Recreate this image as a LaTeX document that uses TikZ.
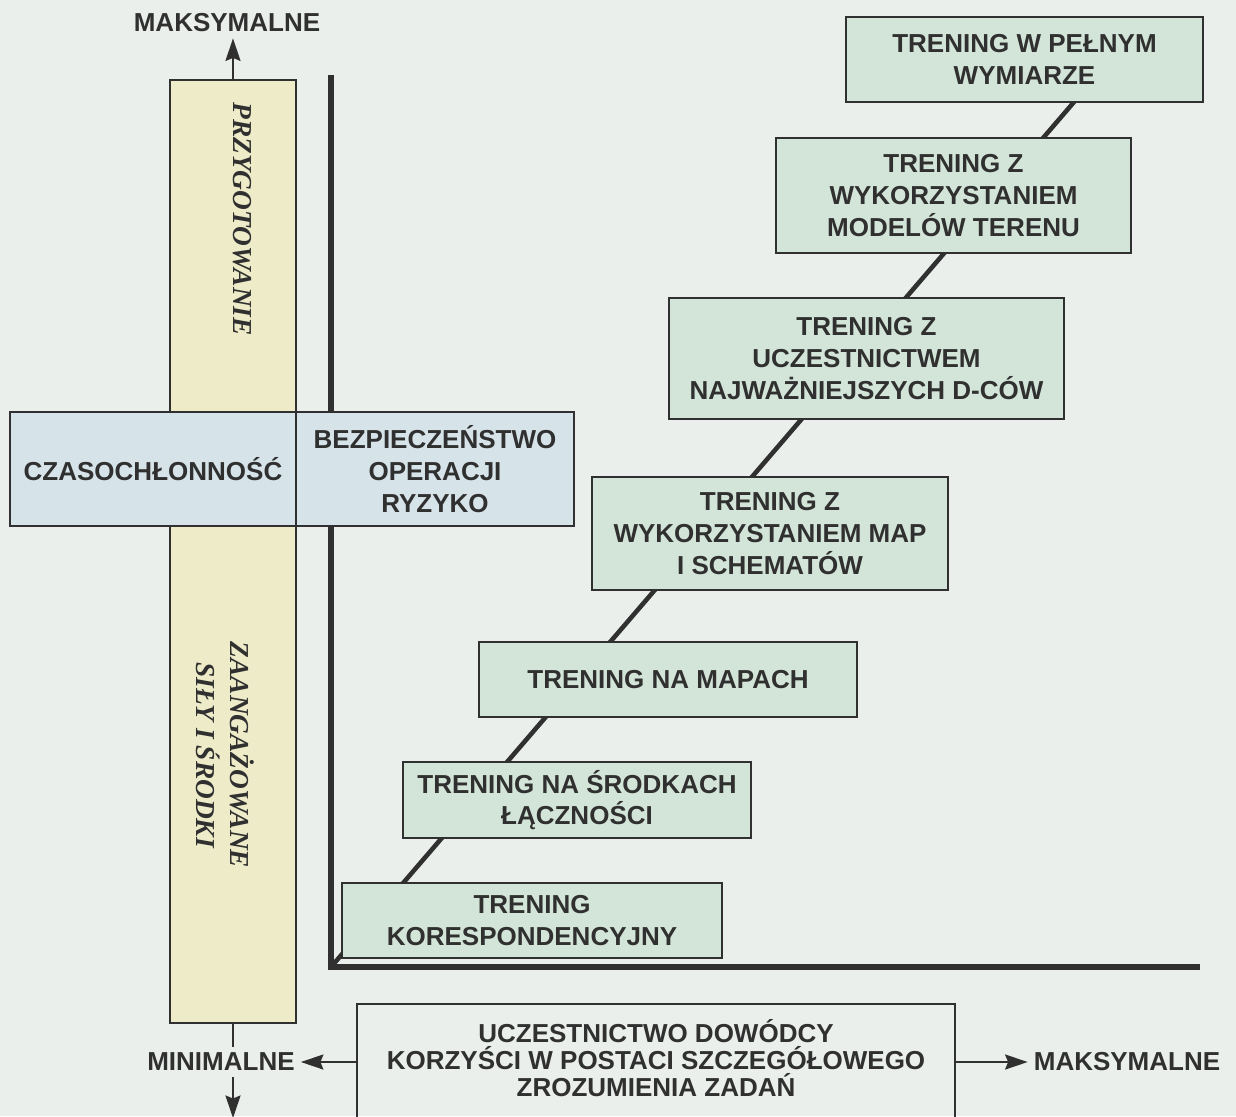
\documentclass[tikz,border=0pt]{standalone}
\usepackage{fontspec}
\setmainfont{Liberation Sans}
\newfontfamily\barfont{Liberation Serif}
\usetikzlibrary{arrows.meta}

\definecolor{ink}{RGB}{48,48,48}
\definecolor{paper}{RGB}{235,239,235}
\definecolor{greenfill}{RGB}{211,229,216}
\definecolor{yellowfill}{RGB}{237,235,200}
\definecolor{bluefill}{RGB}{214,228,233}

\begin{document}
\begin{tikzpicture}[
  x=0.02cm, y=-0.02cm,
  every node/.style={text=ink},
  box/.style={draw=ink, line width=1.3pt, align=center, inner sep=0pt, outer sep=0pt,
    font=\fontsize{14.8}{18}\selectfont\bfseries},
  stage/.style={box, fill=greenfill},
  risk/.style={box, fill=bluefill},
  mainaxis/.style={draw=ink, line width=3.2pt},
  link/.style={draw=ink, line width=2.6pt},
  arr/.style={draw=ink, line width=1.3pt, -{Stealth[length=0.45cm,width=0.3cm,inset=0.06cm]}},
  axislabel/.style={font=\fontsize{14.8}{18}\selectfont\bfseries},
  bartext/.style={rotate=-90, align=center, font=\fontsize{15.6}{19.3}\barfont\bfseries\itshape}
]

\clip (0,0) rectangle (1236,1116);
\fill[paper] (0,0) rectangle (1236,1116);

% Vertical bar
\node[box, fill=yellowfill, minimum width=2.52cm, minimum height=18.86cm] (bar) at (233,551.5) {};
\node[bartext] (prep) at (242,219) {PRZYGOTOWANIE};
\node[bartext] (forces) at (225,755) {ZAANGAŻOWANE\\SIŁY I ŚRODKI};

% Axes
\coordinate (O) at (331,967);
\coordinate (yEnd) at (331,75);
\coordinate (xEnd) at (1200,967);
\coordinate (diagEnd) at (1080,95);
\draw[mainaxis] (yEnd) |- (xEnd);
\draw[link] (O) -- (diagEnd);

% Training stages
\node[stage, minimum width=7.6cm, minimum height=1.5cm] (b1) at (532,920.5) {TRENING\\KORESPONDENCYJNY};
\node[stage, minimum width=6.96cm, minimum height=1.52cm] (b2) at (577,800) {TRENING NA ŚRODKACH\\ŁĄCZNOŚCI};
\node[stage, minimum width=7.56cm, minimum height=1.5cm] (b3) at (668,679.5) {TRENING NA MAPACH};
\node[stage, minimum width=7.12cm, minimum height=2.26cm] (b4) at (770,533.5) {TRENING Z\\WYKORZYSTANIEM MAP\\I SCHEMATÓW};
\node[stage, minimum width=7.9cm, minimum height=2.42cm] (b5) at (866.5,358.5) {TRENING Z\\UCZESTNICTWEM\\NAJWAŻNIEJSZYCH D-CÓW};
\node[stage, minimum width=7.1cm, minimum height=2.3cm] (b6) at (953.5,195.5) {TRENING Z\\WYKORZYSTANIEM\\MODELÓW TERENU};
\node[stage, minimum width=7.14cm, minimum height=1.7cm] (b7) at (1024.5,59.5) {TRENING W PEŁNYM\\WYMIARZE};

% Horizontal band
\node[risk, minimum width=5.72cm, minimum height=2.28cm] (czas) at (153,469) {CZASOCHŁONNOŚĆ};
\node[risk, minimum width=5.56cm, minimum height=2.28cm] (bezp) at (435,469) {BEZPIECZEŃSTWO\\OPERACJI\\RYZYKO};

% Labels and arrows
\node[axislabel] (maxTop) at (227,23) {MAKSYMALNE};
\node[axislabel] (minLabel) at (221,1062) {MINIMALNE};
\node[axislabel] (maxRight) at (1127,1062) {MAKSYMALNE};
\coordinate (bot) at (0,1118);
\coordinate (topline) at (0,1004);

\draw[arr] (bar.north) -- (bar.north |- maxTop.south);
\draw[draw=ink, line width=1.3pt] (bar.south) -- (bar.south |- minLabel.north);
\draw[arr] (bar.south |- minLabel.south) -- (bar.south |- bot);

% Commander participation
\node[box, draw=none, minimum width=11.96cm, font=\fontsize{14.8}{15.5}\selectfont\bfseries] (korzysci) at (656,1058)
  {UCZESTNICTWO DOWÓDCY\\KORZYŚCI W POSTACI SZCZEGÓŁOWEGO\\ZROZUMIENIA ZADAŃ};
\draw[draw=ink, line width=1.3pt] (korzysci.west |- bot) -- (korzysci.west |- topline)
  -- (korzysci.east |- topline) -- (korzysci.east |- bot);
\draw[arr] (korzysci.west |- minLabel.east) -- (minLabel.east);
\draw[arr] (korzysci.east |- maxRight.west) -- (maxRight.west);

\end{tikzpicture}
\end{document}
